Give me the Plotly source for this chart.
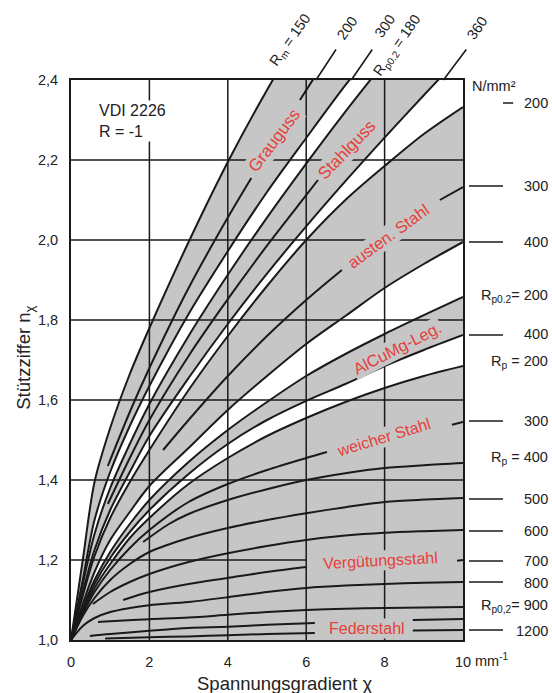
import plotly.graph_objects as go

# ---------------- data ----------------
# Grauguss
g150_x = [0, 0.3, 0.6, 1, 1.5, 2, 3, 4, 5, 6]
g150_n = [1, 1.2, 1.395, 1.53, 1.665, 1.78, 1.995, 2.195, 2.375, 2.54]
g200a_x = [0.94, 1.5, 2, 3, 4, 4.6]
g200a_n = [1.435, 1.57, 1.68, 1.88, 2.056, 2.155]
g200b_x = [5.84, 6.5, 7.2]
g200b_n = [2.35, 2.45, 2.55]
g300_x = [0, 0.3, 0.6, 1, 1.5, 2, 3, 4, 5, 6, 7, 8]
g300_n = [1, 1.15, 1.30, 1.42, 1.535, 1.635, 1.815, 1.972, 2.12, 2.255, 2.387, 2.51]
# Stahlguss
s180_x = [0, 0.3, 0.6, 1, 1.5, 2, 3, 4, 5, 6, 7, 8]
s180_n = [1, 1.14, 1.265, 1.38, 1.49, 1.59, 1.76, 1.913, 2.056, 2.191, 2.321, 2.445]
s270_x = [0.94, 1.5, 2, 3, 4, 5, 6, 6.3]
s270_n = [1.34, 1.455, 1.55, 1.71, 1.852, 1.986, 2.112, 2.15]
s360_x = [0, 0.3, 0.6, 1, 1.5, 2, 3, 4, 5, 6, 7, 8, 9, 10]
s360_n = [1, 1.12, 1.225, 1.325, 1.42, 1.51, 1.655, 1.79, 1.916, 2.034, 2.147, 2.256, 2.362, 2.465]
# austenitischer Stahl
a200_x = [0, 0.3, 0.6, 1, 1.5, 2, 3, 4, 5, 6, 7, 8, 9, 10]
a200_n = [1, 1.11, 1.21, 1.305, 1.395, 1.475, 1.625, 1.76, 1.885, 2.0, 2.1, 2.185, 2.265, 2.3325]
a300a_x = [2.35, 3, 4, 5, 6, 6.91]
a300a_n = [1.475, 1.55, 1.66, 1.76, 1.85, 1.925]
a300b_x = [9.41, 10]
a300b_n = [2.1, 2.1325]
a400_x = [0, 0.3, 0.6, 1, 1.5, 2, 3, 4, 5, 6, 7, 8, 9, 10]
a400_n = [1, 1.09, 1.17, 1.25, 1.32, 1.385, 1.48, 1.575, 1.66, 1.74, 1.81, 1.88, 1.94, 1.995]
# AlCuMg
al200_x = [0, 0.3, 0.6, 1, 1.5, 2, 3, 4, 5, 6, 7, 8, 9, 10]
al200_n = [1, 1.08, 1.15, 1.22, 1.29, 1.35, 1.445, 1.525, 1.595, 1.66, 1.715, 1.765, 1.812, 1.8575]
al400_x = [0, 0.3, 0.6, 1, 1.5, 2, 3, 4, 5, 6, 7, 8, 9, 10]
al400_n = [1, 1.075, 1.14, 1.205, 1.27, 1.325, 1.415, 1.49, 1.55, 1.598, 1.64, 1.685, 1.725, 1.7625]
# weicher Stahl
w200_x = [0, 0.3, 0.6, 1, 1.5, 2, 3, 4, 5, 6, 7, 8, 9, 10]
w200_n = [1, 1.07, 1.13, 1.19, 1.255, 1.305, 1.39, 1.455, 1.51, 1.555, 1.595, 1.63, 1.66, 1.685]
w300a_x = [0, 0.3, 0.6, 1, 1.5, 2, 3, 4, 5, 6, 6.53]
w300a_n = [1, 1.065, 1.12, 1.175, 1.23, 1.275, 1.345, 1.39, 1.425, 1.455, 1.47]
w300b_x = [9.72, 10]
w300b_n = [1.538, 1.545]
w400_x = [1.84, 2.5, 3, 4, 5, 6, 7, 8, 9, 10]
w400_n = [1.245, 1.29, 1.315, 1.35, 1.377, 1.40, 1.417, 1.43, 1.437, 1.4425]
# Vergütungsstahl
v500_x = [0, 0.3, 0.6, 1, 1.5, 2, 3, 4, 5, 6, 7, 8, 9, 10]
v500_n = [1, 1.06, 1.105, 1.15, 1.19, 1.22, 1.255, 1.28, 1.30, 1.317, 1.332, 1.345, 1.351, 1.355]
v600_x = [0.56, 1, 1.5, 2, 3, 4, 5, 6, 7, 8, 9, 10]
v600_n = [1.09, 1.12, 1.145, 1.165, 1.195, 1.217, 1.235, 1.25, 1.261, 1.268, 1.272, 1.275]
v700a_x = [1.33, 2, 3, 4, 5, 6]
v700a_n = [1.10, 1.12, 1.14, 1.155, 1.17, 1.1825]
v700b_x = [9.85, 10]
v700b_n = [1.198, 1.2]
v800_x = [0, 0.3, 0.6, 1, 1.5, 2, 3, 4, 5, 6, 7, 8, 9, 10]
v800_n = [1, 1.035, 1.055, 1.07, 1.08, 1.087, 1.095, 1.107, 1.12, 1.13, 1.136, 1.14, 1.143, 1.145]
# Federstahl
f900_x = [0.69, 1, 2, 3, 4, 5, 6, 7, 8, 9, 10]
f900_n = [1.045, 1.047, 1.052, 1.056, 1.063, 1.07, 1.075, 1.078, 1.08, 1.081, 1.0825]
f1000a_x = [0.48, 1, 2, 3, 4, 5, 6.22]
f1000a_n = [1.01, 1.015, 1.023, 1.03, 1.033, 1.038, 1.0425]
f1000b_x = [8.72, 10]
f1000b_n = [1.05, 1.0525]
f1200a_x = [0.87, 2, 3, 4, 5, 6.22]
f1200a_n = [1.004, 1.007, 1.009, 1.012, 1.015, 1.0175]
f1200b_x = [8.72, 10]
f1200b_n = [1.024, 1.025]

x_ticks = [0, 2, 4, 6, 8, 10]
y_ticks = [1.0, 1.2, 1.4, 1.6, 1.8, 2.0, 2.2, 2.4]
grid_x = [2, 4, 6, 8]
grid_y = [1.4, 1.6, 1.8, 2.0, 2.2]

# right-hand strength scale (N/mm²)
dash_n = [2.3425, 2.135, 1.995, 1.7625, 1.5475, 1.3525, 1.2725, 1.1975, 1.145, 1.025]
dash_txt = ['200', '300', '400', '400', '300', '500', '600', '700', '800', '1200']
dash_txt_n = [2.3425, 2.135, 1.995, 1.765, 1.5475, 1.3525, 1.2725, 1.1975, 1.1425, 1.0225]
rp_txt = ['R<sub>p0.2</sub>= 200', 'R<sub>p</sub> = 200', 'R<sub>p</sub> = 400', 'R<sub>p0,2</sub>= 900']
rp_n = [1.86, 1.695, 1.455, 1.085]

# top strength labels
top_txt = ['R<sub>m</sub> = 150', '200', '300', 'R<sub>p0.2</sub> = 180', '360']
top_px = [0.561, 0.704, 0.801, 0.832, 1.036]
top_py = [1.071, 1.093, 1.096, 1.061, 1.093]

GRAY = '#c6c6c6'
BLACK = '#1a1a1a'
RED = '#e5403b'
TXT = '#222222'
FONT = 'Arial, Liberation Sans, sans-serif'

fig = go.Figure()

def fill_pair(lx, ln, ux, un):
    fig.add_trace(go.Scatter(x=lx, y=ln, mode='lines', line=dict(width=0, shape='spline', smoothing=0.9),
                             hoverinfo='skip', showlegend=False))
    fig.add_trace(go.Scatter(x=ux, y=un, mode='lines', line=dict(width=0, shape='spline', smoothing=0.9),
                             fill='tonexty', fillcolor=GRAY, hoverinfo='skip', showlegend=False))

fill_pair(g300_x, g300_n, g150_x, g150_n)
fill_pair(s360_x, s360_n, s180_x, s180_n)
fill_pair(a400_x, a400_n, a200_x, a200_n)
fill_pair(al400_x, al400_n, al200_x, al200_n)
fig.add_trace(go.Scatter(x=w200_x, y=w200_n, mode='lines', line=dict(width=0, shape='spline', smoothing=0.9),
                         fill='tozeroy', fillcolor=GRAY, hoverinfo='skip', showlegend=False))

curves = [
    (g150_x, g150_n), (g200a_x, g200a_n), (g200b_x, g200b_n), (g300_x, g300_n),
    (s180_x, s180_n), (s270_x, s270_n), (s360_x, s360_n),
    (a200_x, a200_n), (a300a_x, a300a_n), (a300b_x, a300b_n), (a400_x, a400_n),
    (al200_x, al200_n), (al400_x, al400_n),
    (w200_x, w200_n), (w300a_x, w300a_n), (w300b_x, w300b_n), (w400_x, w400_n),
    (v500_x, v500_n), (v600_x, v600_n), (v700a_x, v700a_n), (v700b_x, v700b_n), (v800_x, v800_n),
    (f900_x, f900_n), (f1000a_x, f1000a_n), (f1000b_x, f1000b_n), (f1200a_x, f1200a_n), (f1200b_x, f1200b_n),
]
for cx, cn in curves:
    fig.add_trace(go.Scatter(x=cx, y=cn, mode='lines',
                             line=dict(color=BLACK, width=2, shape='spline', smoothing=0.9),
                             hoverinfo='skip', showlegend=False))

shapes = []
for gx in grid_x:
    shapes.append(dict(type='line', xref='x', yref='paper', x0=gx, x1=gx, y0=0, y1=1,
                       line=dict(color=BLACK, width=1.5), layer='above'))
for gy in grid_y:
    shapes.append(dict(type='line', xref='paper', yref='y', x0=0, x1=1, y0=gy, y1=gy,
                       line=dict(color=BLACK, width=1.5), layer='above'))
shapes.append(dict(type='line', xref='x', yref='y', x0=0, x1=6, y0=1.2, y1=1.2,
                   line=dict(color=BLACK, width=1.5), layer='above'))
# right-hand dashes
for i, dn in enumerate(dash_n):
    x0, x1 = (1.102, 1.128) if i == 0 else (1.0153, 1.102)
    shapes.append(dict(type='line', xref='paper', yref='y', x0=x0, x1=x1, y0=dn, y1=dn,
                       line=dict(color=BLACK, width=1.5)))

ann = []
def lab(text, x, y, ang=0, size=16, xref='x', yref='y', bg=None, color=TXT,
        xanchor='center', yanchor='middle', **kw):
    d = dict(text=text, x=x, y=y, xref=xref, yref=yref, showarrow=False, textangle=ang,
             font=dict(family=FONT, size=size, color=color), borderpad=1,
             xanchor=xanchor, yanchor=yanchor, **kw)
    if bg:
        d['bgcolor'] = bg
    ann.append(d)

# material group labels (gray background masks grid and curves)
lab('Grauguss', 5.18, 2.25, -53, 17, bg=GRAY, color=RED)
lab('Stahlguss', 7.04, 2.2275, -46, 17, bg=GRAY, color=RED)
lab('austen. Stahl', 8.09, 2.01, -36, 16.5, bg=GRAY, color=RED)
lab('AlCuMg-Leg.', 8.32, 1.73, -27, 16.5, bg=GRAY, color=RED)
lab('weicher Stahl', 7.96, 1.5075, -17, 16, bg=GRAY, color=RED)
lab('Vergütungsstahl', 7.9, 1.2, -3, 16, bg=GRAY, color=RED)
lab('Federstahl', 7.55, 1.03, 0, 16, bg=GRAY, color=RED)

lab('VDI 2226<br>R = -1', 0.66, 2.2975, 0, 16, bg='white', xanchor='left', align='left')

for t, px, py in zip(top_txt, top_px, top_py):
    lab(t, px, py, -55, 14.5, xref='paper', yref='paper')

# leader lines to the top labels
for hx, axp in [(6.25, 21), (7.15, 22), (9.5, 24)]:
    ann.append(dict(text='', x=hx, y=2.4, xref='x', yref='y', ax=axp, ay=-32, showarrow=True,
                    arrowhead=0, arrowwidth=1.6, arrowcolor=BLACK, standoff=0, startstandoff=0))

for t, n in zip(dash_txt, dash_txt_n):
    lab(t, 1.222, n, 0, 14.5, xref='paper', xanchor='right')
for t, n in zip(rp_txt, rp_n):
    lab(t, 1.222, n, 0, 14.5, xref='paper', xanchor='right')
lab('N/mm²', 1.018, 0.99, 0, 14.5, xref='paper', yref='paper', xanchor='left')
lab('mm<sup>-1</sup>', 1.0255, -0.0357, 0, 14.5, xref='paper', yref='paper', xanchor='left')

# axis titles
lab('Spannungsgradient χ', 0.546, -0.0768, 0, 18.5, xref='paper', yref='paper')
lab('Stützziffer n<sub>χ</sub>', -0.1173, 0.504, -90, 18.5, xref='paper', yref='paper')

fig.update_layout(
    width=552, height=693,
    margin=dict(l=71, r=89, t=80, b=53),
    paper_bgcolor='white', plot_bgcolor='white',
    separators=',.',
    shapes=shapes, annotations=ann,
    font=dict(family=FONT, size=14, color=TXT),
    showlegend=False,
)
fig.update_xaxes(range=[0, 10], tickvals=x_ticks, showgrid=False, zeroline=False,
                 showline=True, linecolor=BLACK, linewidth=2, mirror=True, ticks='',
                 ticklabelstandoff=8, tickfont=dict(size=14.5, color=TXT))
fig.update_yaxes(range=[1, 2.4], tickvals=y_ticks, tickformat='.1f', showgrid=False, zeroline=False,
                 showline=True, linecolor=BLACK, linewidth=2, mirror=True, ticks='',
                 ticklabelstandoff=8, tickfont=dict(size=14.5, color=TXT))

fig.write_html('out.html')
